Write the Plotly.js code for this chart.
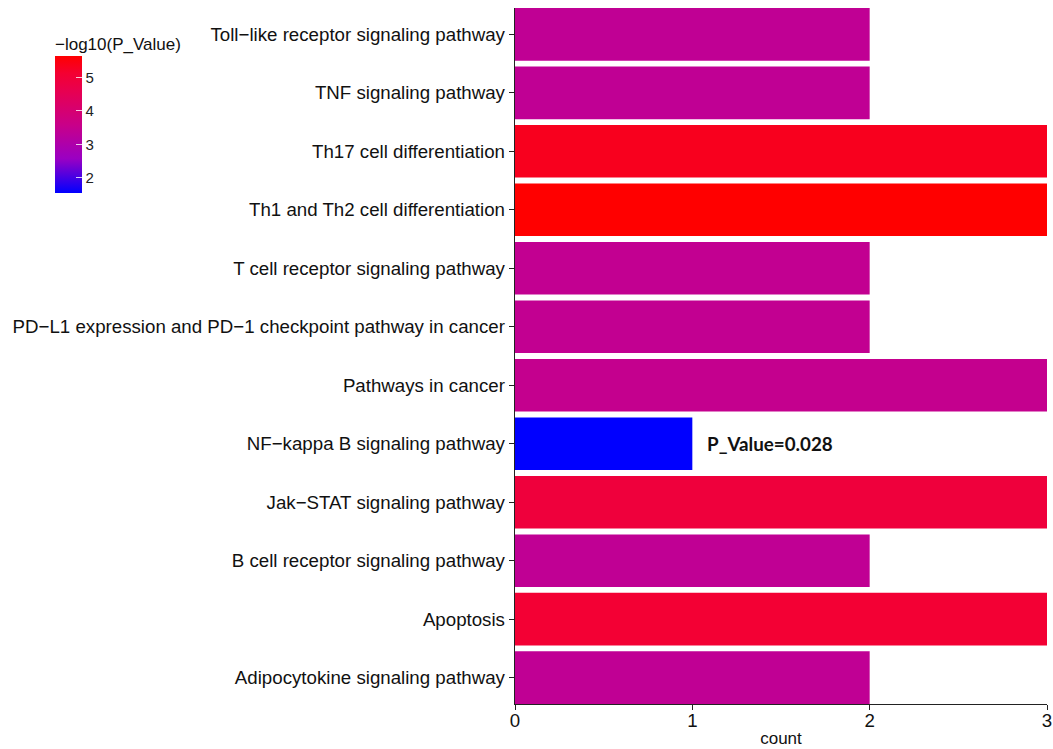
<!DOCTYPE html>
<html>
<head>
<meta charset="utf-8">
<script src="https://cdn.plot.ly/plotly-3.0.1.min.js"></script>
<style>html,body{margin:0;padding:0;background:#fff;}#chart{width:1053px;height:749px;}</style>
</head>
<body>
<div id="chart"></div>
<script>
// Pathways, listed top to bottom as in the chart
var pathways = [
  "Toll\u2212like receptor signaling pathway",
  "TNF signaling pathway",
  "Th17 cell differentiation",
  "Th1 and Th2 cell differentiation",
  "T cell receptor signaling pathway",
  "PD\u2212L1 expression and PD\u22121 checkpoint pathway in cancer",
  "Pathways in cancer",
  "NF\u2212kappa B signaling pathway",
  "Jak\u2212STAT signaling pathway",
  "B cell receptor signaling pathway",
  "Apoptosis",
  "Adipocytokine signaling pathway"
];
var counts = [2, 2, 3, 3, 2, 2, 3, 1, 3, 2, 3, 2];
var negLogP = [3.4, 3.4, 5.35, 5.66, 3.45, 3.45, 3.5, 1.553, 4.95, 3.4, 5.1, 3.4];
var colorTicks = [2, 3, 4, 5];
var annotationText = "P_Value=0.028";
var annotationIndex = 7;

// approximation of ggplot's Lab gradient blue -> red
var colorscale = [
  [0, "rgb(0,0,255)"],
  [0.25, "rgb(154,0,195)"],
  [0.5, "rgb(201,0,136)"],
  [0.75, "rgb(232,0,79)"],
  [0.875, "rgb(244,0,49)"],
  [1, "rgb(255,0,0)"]
];

var trace = {
  type: "bar",
  orientation: "h",
  x: counts,
  y: pathways,
  marker: {
    color: negLogP,
    colorscale: colorscale,
    cmin: 1.553,
    cmax: 5.66,
    line: {width: 0},
    colorbar: {
      title: {text: "\u2212log10(P_Value)", side: "top", font: {family: "Liberation Sans, Arial, sans-serif", size: 17, color: "#111"}},
      xref: "container", yref: "container",
      x: 55/1053, xanchor: "left",
      y: 1 - 34/749, yanchor: "top",
      thickness: 27, thicknessmode: "pixels",
      len: 161, lenmode: "pixels",
      outlinewidth: 0,
      tickvals: colorTicks,
      ticks: "inside", ticklen: 6, tickcolor: "rgba(255,255,255,0.8)", tickwidth: 1,
      ticklabelstandoff: 4,
      tickfont: {family: "Liberation Sans, Arial, sans-serif", size: 15, color: "#222"},
      xpad: 0, ypad: 0
    }
  },
  hoverinfo: "x+y"
};

var layout = {
  width: 1053, height: 749,
  margin: {l: 515, r: 6, t: 8, b: 45},
  paper_bgcolor: "#fff", plot_bgcolor: "#fff",
  bargap: 0.1,
  showlegend: false,
  font: {family: "Liberation Sans, Arial, sans-serif", size: 18.7, color: "#111"},
  xaxis: {
    range: [0, 3],
    tickvals: [0, 1, 2, 3],
    showgrid: false, zeroline: false,
    showline: true, linecolor: "#222", linewidth: 1.3,
    ticks: "outside", ticklen: 5, tickcolor: "#222",
    ticklabelstandoff: -6,
    tickfont: {size: 18.7, color: "#111"},
    title: {text: "count", font: {size: 17, color: "#111"}, standoff: 2}
  },
  yaxis: {
    type: "category",
    categoryorder: "array", categoryarray: pathways,
    range: [11.45, -0.45],
    showgrid: false, zeroline: false,
    showline: true, linecolor: "#222", linewidth: 1.3,
    ticks: "outside", ticklen: 5, tickcolor: "#222",
    tickfont: {size: 18.7, color: "#111"}
  },
  annotations: [{
    x: counts[annotationIndex] + 0.07, y: pathways[annotationIndex],
    xref: "x", yref: "y",
    text: "<b>" + annotationText + "</b>",
    showarrow: false, xanchor: "left",
    font: {family: "Lato, Open Sans, sans-serif", size: 18.8, color: "#111"}
  }]
};

Plotly.newPlot("chart", [trace], layout, {displayModeBar: false, staticPlot: true});
</script>
</body>
</html>
